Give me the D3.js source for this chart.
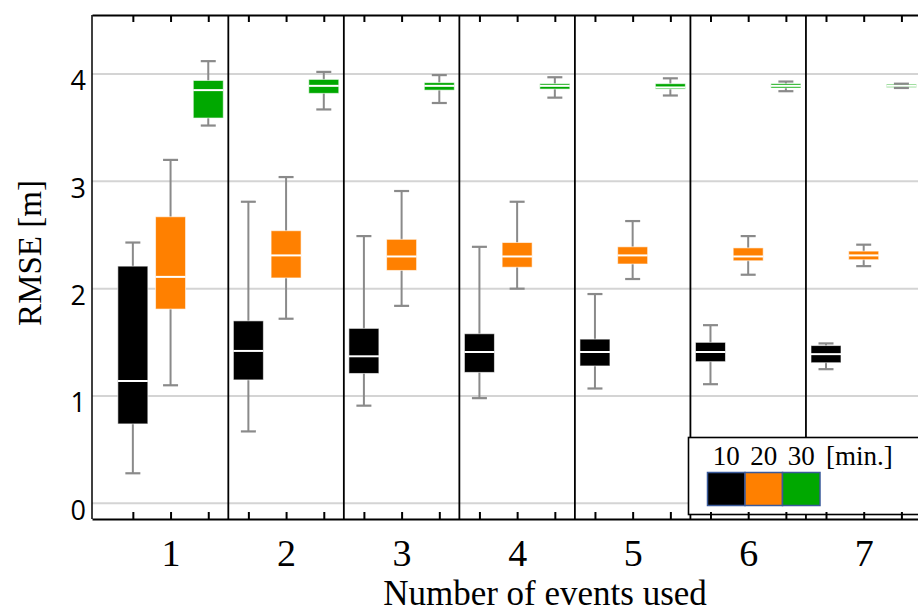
<!DOCTYPE html>
<html>
<head>
<meta charset="utf-8">
<script src="https://cdn.jsdelivr.net/npm/d3@7"></script>
<style>
  body { margin: 0; background: #fff; }
  svg { display: block; }
</style>
</head>
<body>
<svg id="chart" width="918" height="615"></svg>
<script>
// number of events used
var groups = [1, 2, 3, 4, 5, 6, 7];
// measurement window [min.]
var seriesNames = ["10", "20", "30"];
var seriesColors = ["#000000", "#ff8000", "#00a800"];
var yTicks = [0, 1, 2, 3, 4];

// per group: [low whisker, q1, median, q3, high whisker]
var stats10 = [
    [0.28, 0.74, 1.14, 2.21, 2.43],
    [0.67, 1.15, 1.42, 1.70, 2.81],
    [0.91, 1.21, 1.37, 1.63, 2.49],
    [0.98, 1.22, 1.41, 1.58, 2.39],
    [1.07, 1.28, 1.41, 1.53, 1.95],
    [1.11, 1.32, 1.41, 1.50, 1.66],
    [1.25, 1.31, 1.39, 1.47, 1.49]
];
var stats20 = [
    [1.10, 1.81, 2.11, 2.67, 3.20],
    [1.72, 2.10, 2.31, 2.54, 3.04],
    [1.84, 2.17, 2.30, 2.46, 2.91],
    [2.00, 2.20, 2.30, 2.43, 2.81],
    [2.09, 2.23, 2.31, 2.39, 2.63],
    [2.13, 2.26, 2.30, 2.38, 2.49],
    [2.21, 2.27, 2.31, 2.35, 2.41]
];
var stats30 = [
    [3.52, 3.59, 3.85, 3.94, 4.12],
    [3.67, 3.82, 3.89, 3.95, 4.02],
    [3.73, 3.85, 3.89, 3.92, 3.99],
    [3.78, 3.86, 3.89, 3.91, 3.97],
    [3.80, 3.86, 3.875, 3.91, 3.96],
    [3.84, 3.87, 3.89, 3.91, 3.93],
    [3.87, 3.875, 3.89, 3.905, 3.91]
];
var allStats = [stats10, stats20, stats30];

var svg = d3.select("#chart");
var plotLeft = 92, plotRight = 918, plotTop = 15, plotBottom = 519;
var serif = "'Liberation Serif', 'DejaVu Serif', serif";

var xScale = d3.scaleLinear().domain([0.32, 7.47]).range([plotLeft, plotRight]);
var yScale = d3.scaleLinear().domain([-0.146, 4.55]).range([plotBottom, plotTop]);
var offset = 0.3264;   // spacing of the three boxes inside a group
var boxW = 30, capW = 15;

var boxes = [];
groups.forEach(function (g, gi) {
    allStats.forEach(function (st, si) {
        var s = st[gi];
        boxes.push({g: g, s: si, x: g + (si - 1) * offset,
            lo: s[0], q1: s[1], med: s[2], q3: s[3], hi: s[4]});
    });
});

// grid
svg.append("g").selectAll("line").data(yTicks).enter().append("line")
    .attr("x1", plotLeft).attr("x2", plotRight)
    .attr("y1", function (d) { return yScale(d); })
    .attr("y2", function (d) { return yScale(d); })
    .attr("stroke", "#d4d4d4").attr("stroke-width", 2);

// group separators
svg.append("g").selectAll("line").data(groups.slice(0, -1)).enter().append("line")
    .attr("x1", function (d) { return xScale(d + 0.5); })
    .attr("x2", function (d) { return xScale(d + 0.5); })
    .attr("y1", plotTop).attr("y2", plotBottom)
    .attr("stroke", "#000").attr("stroke-width", 1.8);

var bx = svg.append("g").selectAll("g").data(boxes).enter().append("g");

bx.append("line")
    .attr("x1", function (d) { return xScale(d.x); })
    .attr("x2", function (d) { return xScale(d.x); })
    .attr("y1", function (d) { return yScale(d.lo); })
    .attr("y2", function (d) { return yScale(d.hi); })
    .attr("stroke", "#8a8a8a").attr("stroke-width", 2);

bx.append("rect")
    .attr("x", function (d) { return xScale(d.x) - boxW / 2; })
    .attr("width", boxW)
    .attr("y", function (d) { return yScale(d.q3); })
    .attr("height", function (d) { return yScale(d.q1) - yScale(d.q3); })
    .attr("fill", function (d) { return seriesColors[d.s]; })
    .attr("stroke", "#fff").attr("stroke-opacity", 0.6).attr("stroke-width", 1);

bx.append("line")
    .attr("x1", function (d) { return xScale(d.x) - boxW / 2; })
    .attr("x2", function (d) { return xScale(d.x) + boxW / 2; })
    .attr("y1", function (d) { return yScale(d.med); })
    .attr("y2", function (d) { return yScale(d.med); })
    .attr("stroke", "#fff").attr("stroke-width", 2);

["lo", "hi"].forEach(function (k) {
    bx.append("line")
        .attr("x1", function (d) { return xScale(d.x) - capW / 2; })
        .attr("x2", function (d) { return xScale(d.x) + capW / 2; })
        .attr("y1", function (d) { return yScale(d[k]); })
        .attr("y2", function (d) { return yScale(d[k]); })
        .attr("stroke", "#8a8a8a").attr("stroke-width", 2.2);
});

// legend
var lg = svg.append("g");
lg.append("rect").attr("x", 688.5).attr("y", 437.5).attr("width", 250).attr("height", 77)
    .attr("fill", "#fff").attr("stroke", "#000").attr("stroke-width", 1.6);
var swX = d3.scaleBand().domain(seriesNames).range([707.5, 820]);
lg.selectAll("rect.sw").data(seriesNames).enter().append("rect")
    .attr("class", "sw")
    .attr("x", function (d) { return swX(d); })
    .attr("y", 472.5).attr("width", swX.bandwidth()).attr("height", 33)
    .attr("fill", function (d, i) { return seriesColors[i]; })
    .attr("stroke", "#3a5a9a").attr("stroke-width", 1.5);
lg.selectAll("text.lab").data(seriesNames).enter().append("text")
    .attr("class", "lab")
    .attr("x", function (d) { return swX(d) + swX.bandwidth() / 2; })
    .attr("y", 465).attr("text-anchor", "middle")
    .style("font-family", serif).style("font-size", "27px")
    .text(function (d) { return d; });
lg.append("text").attr("x", 826).attr("y", 465)
    .style("font-family", serif).style("font-size", "27px")
    .text("[min.]");

// axes
var tickPos = [];
groups.forEach(function (g) {
    seriesNames.forEach(function (s, si) { tickPos.push(g + (si - 1) * offset); });
});

svg.append("g").attr("transform", "translate(0," + plotTop + ")")
    .call(d3.axisTop(xScale).tickValues(tickPos).tickSizeInner(-7).tickSizeOuter(0).tickFormat(""))
    .call(function (g) {
        g.select(".domain").attr("stroke-width", 2);
        g.selectAll(".tick line").attr("stroke-width", 2);
    });

svg.append("g").attr("transform", "translate(0," + plotBottom + ")")
    .call(d3.axisBottom(xScale).tickValues(tickPos).tickSizeInner(-7).tickSizeOuter(0).tickFormat(""))
    .call(function (g) {
        g.select(".domain").attr("stroke-width", 2);
        g.selectAll(".tick line").attr("stroke-width", 2);
    });

svg.append("g").attr("transform", "translate(0," + plotBottom + ")")
    .call(d3.axisBottom(xScale).tickValues(groups).tickSize(0).tickFormat(d3.format("d")))
    .call(function (g) {
        g.select(".domain").remove();
        g.selectAll("text").attr("y", 47).attr("dy", 0)
            .attr("fill", "#000")
            .style("font-family", serif).style("font-size", "38px");
    });

svg.append("g").attr("transform", "translate(" + plotLeft + ",0)")
    .call(d3.axisLeft(yScale).tickValues(yTicks).tickSize(0).tickPadding(6).tickFormat(d3.format("d")))
    .call(function (g) {
        g.select(".domain").attr("stroke-width", 1.5)
            .attr("d", "M0," + plotTop + "V" + plotBottom);
        g.selectAll("text").attr("dy", "0.58em").attr("fill", "#000")
            .style("font-family", "'Open Sans', sans-serif").style("font-size", "27px");
    });

// titles
svg.append("text")
    .attr("transform", "translate(41,253) rotate(-90)")
    .attr("text-anchor", "middle")
    .style("font-family", serif).style("font-size", "33px")
    .text("RMSE [m]");

svg.append("text")
    .attr("x", 545).attr("y", 605)
    .attr("text-anchor", "middle")
    .style("font-family", serif).style("font-size", "35px")
    .text("Number of events used");
</script>
</body>
</html>
